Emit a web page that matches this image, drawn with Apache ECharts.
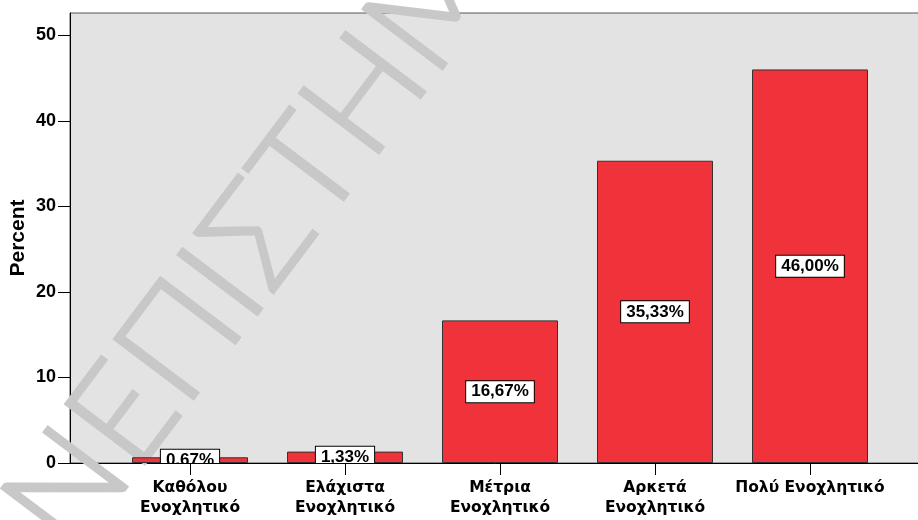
<!DOCTYPE html>
<html>
<head>
<meta charset="utf-8">
<script src="https://cdn.jsdelivr.net/npm/echarts@6/dist/echarts.min.js"></script>
<style>
  html, body { margin: 0; padding: 0; background: #fff; }
  #chart { width: 918px; height: 520px; }
</style>
</head>
<body>
<div id="chart"></div>
<script>
// δεδομένα
var categories = ['Καθόλου\nΕνοχλητικό', 'Ελάχιστα\nΕνοχλητικό', 'Μέτρια\nΕνοχλητικό', 'Αρκετά\nΕνοχλητικό', 'Πολύ Ενοχλητικό']
var percents = [0.67, 1.33, 16.67, 35.33, 46.00]
var barLabels = ['0,67%', '1,33%', '16,67%', '35,33%', '46,00%']
var yTicks = [0, 10, 20, 30, 40, 50]

var numFont = '"Liberation Sans", Arial, sans-serif'
var catFont = '"DejaVu Sans", Verdana, sans-serif'
var yMax = 52.6

var myChart = echarts.init(document.getElementById('chart'))

var option = {
  animation: false,
  graphic: [{
    type: 'text',
    z: 1,
    x: 240,
    y: 262,
    rotation: 53 * Math.PI / 180,
    style: {
      text: 'ΠΑΝΕΠΙΣΤΗΜΙΟ',
      font: '300 140px Lato, "DejaVu Sans", sans-serif',
      fill: '#c8c8c8',
      stroke: '#c8c8c8',
      lineWidth: 3,
      textAlign: 'center',
      textVerticalAlign: 'middle'
    }
  }],
  grid: [
    // πλαίσιο με γκρι φόντο
    { left: 70, right: -5, top: 13, bottom: 57, outerBoundsMode: 'none', show: true, backgroundColor: '#e3e3e3', borderColor: '#555', borderWidth: 1 },
    // περιοχή μπαρών
    { left: 112.5, right: 30.5, top: 13, bottom: 57, outerBoundsMode: 'none' }
  ],
  xAxis: [
    { gridIndex: 0, type: 'category', data: [''], axisLine: { lineStyle: { color: '#000', width: 1 } }, axisTick: { show: false }, axisLabel: { show: false } },
    {
      gridIndex: 1, type: 'category', data: categories,
      axisLine: { show: false },
      axisTick: { show: true, alignWithLabel: true, length: 12, lineStyle: { color: '#000' } },
      axisLabel: { color: '#000', fontFamily: catFont, fontWeight: 'bold', fontSize: 15.5, lineHeight: 20, margin: 15, interval: 0 }
    }
  ],
  yAxis: [
    {
      gridIndex: 0, type: 'value', min: 0, max: yMax,
      name: 'Percent', nameLocation: 'middle', nameGap: 41, nameMoveOverlap: false,
      nameTextStyle: { color: '#000', fontFamily: numFont, fontWeight: 'bold', fontSize: 21 },
      splitLine: { show: false },
      axisLine: { show: true, lineStyle: { color: '#000', width: 1 } },
      axisTick: { show: true, length: 12, customValues: yTicks, lineStyle: { color: '#000' } },
      axisLabel: { color: '#000', fontFamily: numFont, fontWeight: 'bold', fontSize: 18, margin: 14, customValues: yTicks }
    },
    { gridIndex: 1, type: 'value', min: 0, max: yMax, show: false }
  ],
  series: [
    {
      type: 'bar',
      xAxisIndex: 1, yAxisIndex: 1,
      data: percents,
      barWidth: 116,
      itemStyle: { color: '#f0323a', borderColor: '#333', borderWidth: 1 }
    },
    {
      // ετικέτες στο μέσο της μπάρας, κομμένες στα όρια του γραφήματος
      type: 'custom',
      xAxisIndex: 1, yAxisIndex: 1,
      clip: true,
      z: 3,
      data: percents.map(function (v, i) { return [i, v] }),
      renderItem: function (params, api) {
        var pt = api.coord([api.value(0), api.value(1) / 2])
        return {
          type: 'text',
          x: pt[0],
          y: pt[1],
          style: {
            text: barLabels[params.dataIndex],
            font: 'bold 17px ' + numFont,
            fill: '#000',
            align: 'center',
            verticalAlign: 'middle',
            textAlign: 'center',
            textVerticalAlign: 'middle',
            backgroundColor: '#fff',
            borderColor: '#000',
            borderWidth: 1,
            padding: [2, 5, 2, 5]
          }
        }
      }
    }
  ]
}

myChart.setOption(option)
window.onresize = function () {
  myChart.resize()
}
</script>
</body>
</html>
